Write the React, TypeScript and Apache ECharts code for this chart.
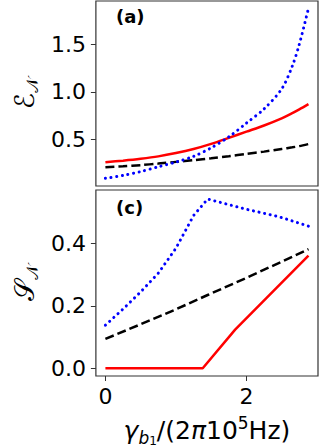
import React, { useEffect, useRef } from "react";
import * as echarts from "echarts";

// Panel (a): entanglement E_N
const xTop = [0, 0.25, 0.5, 0.75, 1.0, 1.25, 1.5, 1.75, 2.0, 2.25, 2.5, 2.65, 2.75, 2.88];
const redTop = [0.258, 0.275, 0.295, 0.32, 0.355, 0.398, 0.452, 0.515, 0.58, 0.645, 0.72, 0.775, 0.815, 0.87];
const blackTop = [0.205, 0.215, 0.228, 0.244, 0.262, 0.28, 0.3, 0.322, 0.346, 0.37, 0.398, 0.415, 0.428, 0.45];
const blueTop = [0.089, 0.12, 0.16, 0.21, 0.26, 0.32, 0.41, 0.525, 0.67, 0.82, 1.03, 1.27, 1.5, 1.88];

// Panel (c): steering S_N
const xBlueBot = [0, 0.25, 0.5, 0.75, 1.0, 1.25, 1.45, 2.0, 2.45, 2.88];
const blueBot = [0.138, 0.19, 0.245, 0.305, 0.385, 0.49, 0.543, 0.51, 0.487, 0.456];
const xBlackBot = [0, 0.5, 1.0, 1.45, 2.0, 2.5, 2.88];
const blackBot = [0.094, 0.141, 0.189, 0.235, 0.29, 0.342, 0.382];
const xRedBot = [0, 1.38, 1.84, 2.88];
const redBot = [0, 0, 0.124, 0.361];

const yTicksTop = [0.5, 1.0, 1.5];
const yTicksBot = [0, 0.2, 0.4];
const xTicks = [0, 2];

const pairs = (xs: number[], ys: number[]) => xs.map((x, i) => [x, ys[i]]);

export default function App() {
  const ref = useRef<HTMLDivElement>(null);
  useEffect(() => {
    document.body.style.margin = "0";
    const chart = echarts.init(ref.current!, null, { renderer: "svg" });
    const font = "DejaVu Sans";
    const frame = "#333333";
    const tickStyle = { color: frame, width: 1 };
    const labelBase = { fontSize: 22, color: "#000", fontFamily: font };
    const red = "#ff0000";
    const blue = "#0000ff";
    const dotted = { type: [0.1, 5.6], cap: "round", width: 3, color: blue };
    const dashed = { type: [9, 4], width: 2.5, color: "#000" };
    const solid = { width: 2.5, color: red };
    const yNameRich = {
      m: { fontSize: 27, fontFamily: font, lineHeight: 32, color: "#000" },
      s: { fontSize: 16, fontFamily: font, lineHeight: 16, padding: [16, 0, 0, 0], color: "#000" },
    };
    chart.setOption({
      animation: false,
      grid: [
        { left: 77, top: 1, width: 241, height: 185, show: true, borderColor: frame, borderWidth: 1.2, backgroundColor: "#fff" },
        { left: 77, top: 190, width: 241, height: 186, show: true, borderColor: frame, borderWidth: 1.2, backgroundColor: "#fff" },
      ],
      xAxis: [
        {
          gridIndex: 0, type: "value", min: -0.135, max: 3.015,
          axisLine: { show: false, onZero: false }, axisTick: { show: false },
          axisLabel: { show: false }, splitLine: { show: false },
        },
        {
          gridIndex: 1, type: "value", min: -0.135, max: 3.015,
          axisLine: { show: false, onZero: false },
          axisTick: { show: true, customValues: xTicks, length: 5, lineStyle: tickStyle },
          axisLabel: { ...labelBase, customValues: xTicks, margin: 9, formatter: (v: number) => String(v) },
          splitLine: { show: false },
          name: "{g|γ}{b|b}{one|1}{n|/(2}{g|π}{n|10}{sup|5}{n|Hz)}",
          nameLocation: "middle",
          nameGap: 38,
          nameTextStyle: {
            rich: {
              g: { fontSize: 25, fontFamily: font, fontStyle: "italic", lineHeight: 32, color: "#000" },
              b: { fontSize: 17, fontFamily: font, fontStyle: "italic", lineHeight: 16, padding: [16, 0, 0, 0], color: "#000" },
              one: { fontSize: 12, fontFamily: font, lineHeight: 12, padding: [22, 0, 0, 0], color: "#000" },
              n: { fontSize: 25, fontFamily: font, lineHeight: 32, color: "#000" },
              sup: { fontSize: 17, fontFamily: font, lineHeight: 16, padding: [0, 0, 14, 0], color: "#000" },
            },
          },
        },
      ],
      yAxis: [
        {
          gridIndex: 0, type: "value", min: 0.008, max: 1.956,
          axisLine: { show: false, onZero: false },
          axisTick: { show: true, customValues: yTicksTop, length: 5, lineStyle: tickStyle },
          axisLabel: { ...labelBase, customValues: yTicksTop, margin: 10, formatter: (v: number) => v.toFixed(1) },
          splitLine: { show: false },
          name: "{m|ℰ}{s|𝒩}",
          nameLocation: "middle",
          nameGap: 51,
          nameTextStyle: { rich: yNameRich },
        },
        {
          gridIndex: 1, type: "value", min: -0.025, max: 0.572,
          axisLine: { show: false, onZero: false },
          axisTick: { show: true, customValues: yTicksBot, length: 5, lineStyle: tickStyle },
          axisLabel: { ...labelBase, customValues: yTicksBot, margin: 10, formatter: (v: number) => v.toFixed(1) },
          splitLine: { show: false },
          name: "{m|𝒮}{s|𝒩}",
          nameLocation: "middle",
          nameGap: 51,
          nameTextStyle: { rich: yNameRich },
        },
      ],
      graphic: [
        { type: "text", left: 116, top: 7, style: { text: "(a)", fontSize: 18, fontWeight: "bold", fontFamily: font, fill: "#000" } },
        { type: "text", left: 116, top: 198, style: { text: "(c)", fontSize: 18, fontWeight: "bold", fontFamily: font, fill: "#000" } },
      ],
      series: [
        { type: "line", xAxisIndex: 0, yAxisIndex: 0, data: pairs(xTop, redTop), smooth: 0.3, showSymbol: false, lineStyle: solid },
        { type: "line", xAxisIndex: 0, yAxisIndex: 0, data: pairs(xTop, blackTop), smooth: 0.3, showSymbol: false, lineStyle: dashed },
        { type: "line", xAxisIndex: 0, yAxisIndex: 0, data: pairs(xTop, blueTop), smooth: 0.3, showSymbol: false, lineStyle: dotted },
        { type: "line", xAxisIndex: 1, yAxisIndex: 1, data: pairs(xRedBot, redBot), showSymbol: false, lineStyle: solid },
        { type: "line", xAxisIndex: 1, yAxisIndex: 1, data: pairs(xBlackBot, blackBot), showSymbol: false, lineStyle: dashed },
        { type: "line", xAxisIndex: 1, yAxisIndex: 1, data: pairs(xBlueBot, blueBot), showSymbol: false, lineStyle: dotted },
      ],
    });
    return () => chart.dispose();
  }, []);
  return <div ref={ref} style={{ position: "absolute", left: 0, top: 0, width: 322, height: 448 }} />;
}
